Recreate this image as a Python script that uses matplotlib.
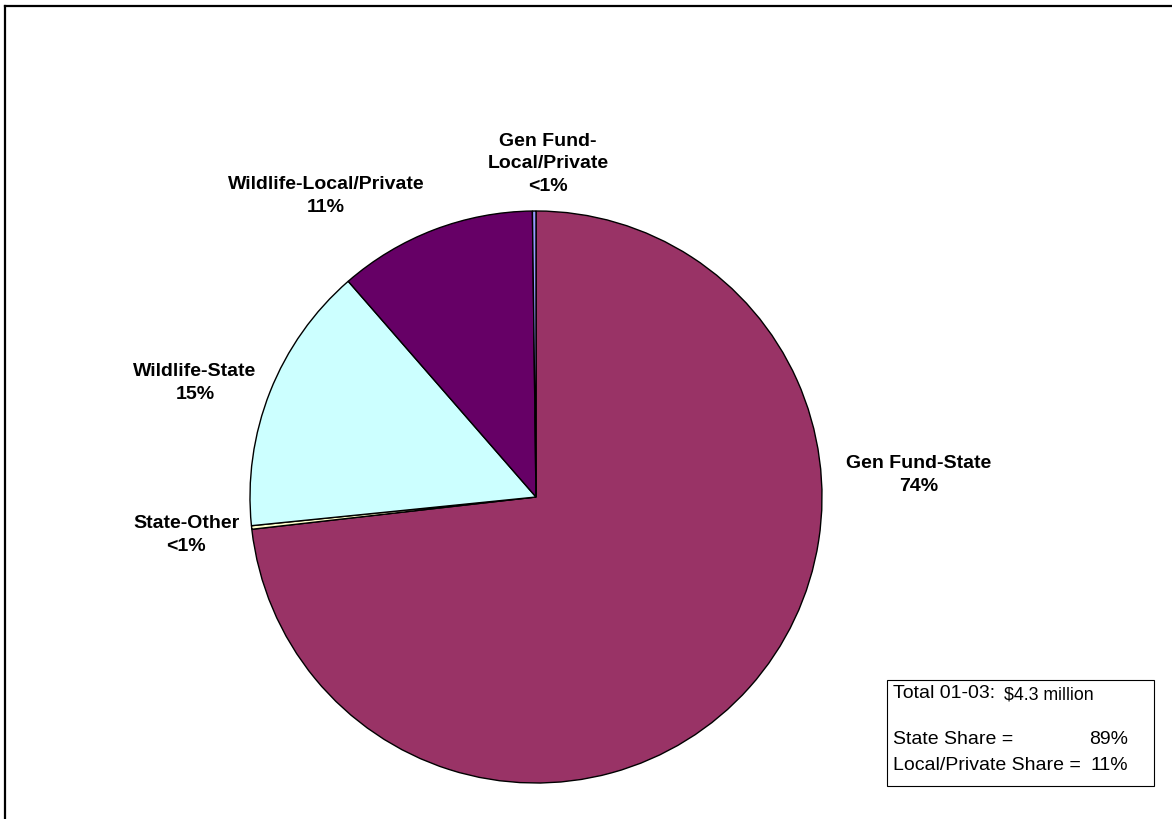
import matplotlib.pyplot as plt
from matplotlib.lines import Line2D

plt.rcParams['font.family'] = ['Liberation Sans', 'DejaVu Sans']

# fund sources, clockwise from 12 o'clock
sources = ['Gen Fund-State', 'State-Other', 'Wildlife-State',
           'Wildlife-Local/Private', 'Gen Fund-Local/Private']
shares = [73.2, 0.2, 15.2, 11.2, 0.2]
share_labels = ['74%', '<1%', '15%', '11%', '<1%']
colors = ['#993366', '#FFFFCC', '#CCFFFF', '#660066', '#9999FF']

total_text = '$4.3 million'
state_share = '89%'
local_share = '11%'

W, H = 1172, 819
fig = plt.figure(figsize=(W / 100, H / 100), dpi=100)
ax = fig.add_axes([0, 0, 1, 1])

cx, cy, r = 536, H - 497, 286
ax.pie(shares, colors=colors, startangle=90, counterclock=False,
       center=(cx, cy), radius=r, frame=True,
       wedgeprops=dict(edgecolor='black', linewidth=1.0))
ax.set_xlim(0, W)
ax.set_ylim(0, H)
ax.set_aspect('equal')
ax.axis('off')

# slice labels (pixel positions, y measured from top)
label_pos = {
    'Gen Fund-State': (919, 475, 'Gen Fund-State'),
    'State-Other': (186, 535, 'State-Other'),
    'Wildlife-State': (195, 383, 'Wildlife-State'),
    'Wildlife-Local/Private': (326, 196, 'Wildlife-Local/Private'),
    'Gen Fund-Local/Private': (548, 164, 'Gen Fund-\nLocal/Private'),
}
for src, lab in zip(sources, share_labels):
    x, y, name = label_pos[src]
    ax.text(x, H - y, name + '\n' + lab, ha='center', va='center',
            fontsize=14, fontweight='bold', linespacing=1.42)

# summary box
ax.add_patch(plt.Rectangle((887, H - 786), 267, 106, fill=False,
                           edgecolor='black', linewidth=0.8))
ax.text(893, H - 693, 'Total 01-03:', ha='left', va='center', fontsize=14)
ax.text(1004, H - 695, total_text, ha='left', va='center', fontsize=12.8)
ax.text(893, H - 740, 'State Share =', ha='left', va='center', fontsize=14)
ax.text(1128, H - 740, state_share, ha='right', va='center', fontsize=14)
ax.text(893, H - 766, 'Local/Private Share =', ha='left', va='center',
        fontsize=14)
ax.text(1128, H - 766, local_share, ha='right', va='center', fontsize=14)

# chart area border, top and left edges only
fig.add_artist(Line2D([4.5 / W, 1], [1 - 5.5 / H, 1 - 5.5 / H],
                      transform=fig.transFigure, color='black', linewidth=1.6))
fig.add_artist(Line2D([4.5 / W, 4.5 / W], [0, 1 - 5.5 / H],
                      transform=fig.transFigure, color='black', linewidth=1.6))

fig.savefig('out.png', dpi=100)
